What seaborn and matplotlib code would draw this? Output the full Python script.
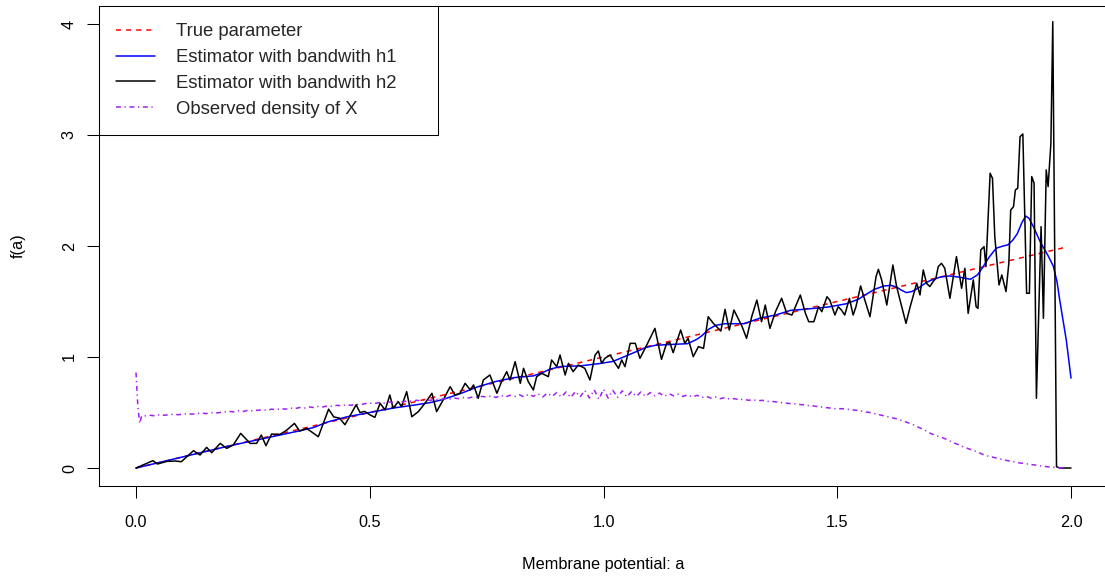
import numpy as np
import pandas as pd
import matplotlib
matplotlib.use("Agg")
import matplotlib.pyplot as plt
import seaborn as sns

# ---------------- data ----------------
true_x = [0.0, 1.99]
true_y = [0.0, 1.99]

h1_x = [0.0, 0.05, 0.1, 0.15, 0.2, 0.25, 0.3, 0.35, 0.38, 0.41, 0.45, 0.5, 0.55, 0.6, 0.63,
        0.65, 0.68, 0.7, 0.73, 0.77, 0.81, 0.85, 0.87, 0.885, 0.91, 0.95, 0.99, 1.02, 1.04,
        1.06, 1.09, 1.11, 1.13, 1.18, 1.20, 1.21, 1.225, 1.24, 1.26, 1.30, 1.335, 1.37, 1.40,
        1.43, 1.48, 1.52, 1.545, 1.56, 1.58, 1.60, 1.615, 1.627, 1.638, 1.648, 1.66, 1.677,
        1.69, 1.70, 1.72, 1.74, 1.76, 1.785, 1.80, 1.81, 1.825, 1.84, 1.855, 1.865, 1.875,
        1.885, 1.895, 1.903, 1.91, 1.92, 1.935, 1.95, 1.962, 1.97, 1.976, 1.983, 1.99, 2.0]
h1_y = [0.0, 0.05, 0.1, 0.15, 0.2, 0.245, 0.29, 0.335, 0.365, 0.415, 0.46, 0.50, 0.54, 0.57, 0.59,
        0.61, 0.65, 0.68, 0.73, 0.78, 0.815, 0.83, 0.86, 0.89, 0.915, 0.92, 0.94, 0.96, 0.995,
        1.03, 1.085, 1.105, 1.11, 1.12, 1.16, 1.19, 1.25, 1.285, 1.30, 1.30, 1.35, 1.38, 1.42,
        1.43, 1.45, 1.48, 1.52, 1.56, 1.61, 1.64, 1.645, 1.63, 1.60, 1.58, 1.59, 1.63,
        1.67, 1.69, 1.72, 1.73, 1.72, 1.70, 1.74, 1.80, 1.90, 1.98, 2.00, 2.01, 2.05,
        2.11, 2.21, 2.27, 2.25, 2.17, 2.03, 1.92, 1.82, 1.68, 1.51, 1.33, 1.15, 0.81]

h2_x = [0.0, 0.036, 0.046, 0.066, 0.084, 0.097, 0.123, 0.137, 0.151, 0.162, 0.18, 0.194, 0.208,
        0.224, 0.244, 0.258, 0.268, 0.278, 0.29, 0.308, 0.322, 0.339, 0.35, 0.365, 0.39, 0.412,
        0.423, 0.435, 0.447, 0.471, 0.479, 0.489, 0.50,
        0.511, 0.522, 0.533, 0.543, 0.55, 0.561, 0.568, 0.579, 0.59, 0.604, 0.618, 0.633, 0.643,
        0.657, 0.672, 0.682, 0.693, 0.704, 0.715, 0.722, 0.732, 0.743, 0.757, 0.772, 0.782,
        0.793, 0.8, 0.811, 0.822, 0.829, 0.839, 0.85, 0.857, 0.868, 0.882, 0.889, 0.9, 0.907,
        0.918, 0.925, 0.935, 0.946, 0.96, 0.971, 0.982,
        0.989, 0.996, 1.003, 1.014, 1.025, 1.032, 1.039, 1.046, 1.057, 1.068, 1.078, 1.089,
        1.11, 1.124, 1.135, 1.142, 1.149, 1.165, 1.174, 1.181, 1.192, 1.203, 1.214, 1.224,
        1.235, 1.251, 1.26, 1.269, 1.279, 1.296, 1.306, 1.317, 1.328, 1.338, 1.346, 1.356,
        1.368, 1.381, 1.392, 1.403, 1.421, 1.432, 1.439, 1.45, 1.46, 1.467, 1.478,
        1.484, 1.495, 1.502, 1.509, 1.516, 1.526, 1.534, 1.54, 1.55, 1.559, 1.57, 1.583, 1.588,
        1.595, 1.606, 1.619, 1.627, 1.647, 1.656, 1.67, 1.677, 1.684, 1.691, 1.698, 1.705,
        1.711, 1.716, 1.723, 1.73, 1.741, 1.755, 1.766, 1.773, 1.78, 1.791, 1.797, 1.801, 1.807,
        1.814, 1.818, 1.827, 1.832, 1.837, 1.846, 1.852, 1.861, 1.867, 1.871, 1.877, 1.881,
        1.886, 1.891, 1.897, 1.905, 1.911, 1.916, 1.921, 1.926, 1.936, 1.941, 1.947, 1.951,
        1.957, 1.961, 1.969, 1.976, 2.0]
h2_y = [0.0, 0.066, 0.036, 0.06, 0.063, 0.057, 0.156, 0.117, 0.186, 0.138, 0.222, 0.177, 0.207,
        0.312, 0.222, 0.222, 0.297, 0.201, 0.306, 0.303, 0.34, 0.402, 0.333, 0.357, 0.282, 0.53,
        0.46, 0.45, 0.39, 0.57, 0.50, 0.51, 0.48,
        0.456, 0.583, 0.523, 0.658, 0.538, 0.598, 0.553, 0.688, 0.462, 0.508, 0.583, 0.673, 0.508,
        0.613, 0.733, 0.658, 0.673, 0.763, 0.703, 0.748, 0.628, 0.793, 0.838, 0.673, 0.778,
        0.868, 0.793, 0.958, 0.763, 0.898, 0.778, 0.703, 0.823, 0.853, 0.823, 0.973, 0.913, 1.018,
        0.838, 0.943, 0.868, 0.928, 0.898, 0.793, 1.018,
        1.054, 0.943, 0.988, 1.018, 0.943, 0.898, 0.973, 0.913, 1.123, 1.123, 0.988, 1.078,
        1.258, 0.979, 1.123, 1.129, 1.039, 1.243, 1.123, 1.168, 1.003, 1.093, 1.078, 1.363,
        1.303, 1.234, 1.429, 1.243, 1.423, 1.279, 1.168, 1.363, 1.513, 1.318, 1.468, 1.258,
        1.41, 1.529, 1.393, 1.378, 1.558, 1.393, 1.318, 1.318, 1.453, 1.408, 1.543,
        1.513, 1.378, 1.453, 1.423, 1.378, 1.528, 1.378, 1.453, 1.64, 1.513, 1.363, 1.724, 1.79,
        1.694, 1.468, 1.829, 1.634, 1.303, 1.453, 1.664, 1.559, 1.784, 1.664, 1.634, 1.679,
        1.709, 1.814, 1.844, 1.799, 1.529, 1.904, 1.619, 1.799, 1.393, 1.694, 1.453, 1.438, 1.964,
        1.994, 1.814, 2.655, 2.61, 2.084, 1.649, 1.739, 1.589, 1.844, 2.324, 2.354, 2.505,
        2.52, 2.985, 3.009, 1.574, 1.574, 2.625, 2.565, 0.628, 2.174, 1.348, 2.685, 2.535,
        2.925, 4.021, 0.012, 0.0, 0.0]

dens_x_start = [0.0, 0.004, 0.008, 0.012]
dens_y_start = [0.86, 0.55, 0.40, 0.47]
dens_y_grid = [
    0.47, 0.475, 0.47, 0.48, 0.475, 0.48, 0.485, 0.48, 0.485,
    0.49, 0.485, 0.49, 0.495, 0.49, 0.50, 0.495, 0.50, 0.505, 0.51,
    0.505, 0.515, 0.51, 0.52, 0.515, 0.52, 0.525, 0.52, 0.53, 0.525,
    0.535, 0.53, 0.54, 0.535, 0.545, 0.54, 0.55, 0.545, 0.555, 0.55,
    0.56, 0.555, 0.565, 0.56, 0.57, 0.565, 0.575, 0.57, 0.58, 0.585,
    0.58, 0.59, 0.585, 0.595, 0.59, 0.60, 0.595, 0.605, 0.60, 0.61,
    0.605, 0.615, 0.61, 0.62, 0.615, 0.625, 0.62, 0.63, 0.625, 0.635,
    0.63, 0.64, 0.635, 0.645, 0.64, 0.65, 0.635, 0.655, 0.64, 0.655,
    0.645, 0.66, 0.64, 0.665, 0.645, 0.67, 0.64, 0.675, 0.645, 0.68,
    0.64, 0.685, 0.635, 0.69, 0.64, 0.70, 0.63, 0.705, 0.62, 0.71,
    0.63, 0.70, 0.635, 0.695, 0.64, 0.69, 0.645, 0.685, 0.645, 0.68,
    0.65, 0.675, 0.645, 0.67, 0.65, 0.665, 0.645, 0.66, 0.64, 0.655,
    0.635, 0.645, 0.63, 0.64, 0.625, 0.635, 0.62, 0.625, 0.615, 0.62,
    0.61, 0.615, 0.605, 0.61, 0.60, 0.60, 0.595, 0.59, 0.585, 0.58,
    0.578, 0.572, 0.568, 0.562, 0.558, 0.552, 0.548, 0.542, 0.538, 0.532,
    0.535, 0.53, 0.525, 0.52, 0.515, 0.505, 0.50, 0.49, 0.48, 0.47,
    0.46, 0.45, 0.44, 0.425, 0.41, 0.395, 0.375, 0.355, 0.335, 0.31, 0.295,
    0.28, 0.265, 0.245, 0.225, 0.21, 0.19, 0.175, 0.16, 0.145, 0.125,
    0.11, 0.10, 0.09, 0.08, 0.07, 0.062, 0.055, 0.046, 0.04, 0.033,
    0.027, 0.021, 0.016, 0.011, 0.007, 0.004, 0.002, 0.001]
dens_x_grid = [round(0.02 + 0.01 * i, 2) for i in range(len(dens_y_grid))]
dens_x = dens_x_start + dens_x_grid
dens_y = dens_y_start + dens_y_grid

labels = ["True parameter", "Estimator with bandwith h1",
          "Estimator with bandwith h2", "Observed density of X"]
x_ticks = [0.0, 0.5, 1.0, 1.5, 2.0]
y_ticks = [0, 1, 2, 3, 4]

# ---------------- style ----------------
sns.set_theme(style="ticks")
plt.rcParams["font.family"] = ["Liberation Sans", "DejaVu Sans"]
plt.rcParams["axes.edgecolor"] = "black"
plt.rcParams["axes.linewidth"] = 0.75

fs = 11.7
fs_leg = 13.3
fig = plt.figure(figsize=(11.05, 5.81), dpi=100)
ax = fig.add_axes([0.08923, 0.16351, 0.91385, 0.82565])

lw = 1.1
sns.lineplot(x=true_x, y=true_y, ax=ax, color="#FF0000", lw=lw,
             linestyle=(0, (3.3, 3.3)), estimator=None, sort=False, label=labels[0])
sns.lineplot(x=h1_x, y=h1_y, ax=ax, color="#0000FF", lw=lw,
             estimator=None, sort=False, label=labels[1])
sns.lineplot(x=h2_x, y=h2_y, ax=ax, color="black", lw=lw,
             estimator=None, sort=False, label=labels[2])
sns.lineplot(x=dens_x, y=dens_y, ax=ax, color="#A020F0", lw=lw,
             linestyle=(0, (3.2, 2.4, 0.8, 2.4)), estimator=None, sort=False, label=labels[3])

ax.set_xlim(-0.08, 2.08)
ax.set_ylim(-0.162, 4.159)
ax.set_xticks(x_ticks)
ax.set_xticklabels(["0.0", "0.5", "1.0", "1.5", "2.0"])
ax.set_yticks(y_ticks)
ax.set_yticklabels([str(v) for v in y_ticks])
ax.tick_params(axis="both", length=8.64, width=0.75, color="black",
               labelsize=fs, labelcolor="black", direction="out")
ax.tick_params(axis="x", pad=12)
ax.tick_params(axis="y", pad=7)
for lab in ax.get_yticklabels():
    lab.set_rotation(90)
    lab.set_va("center")
for sp in ax.spines.values():
    sp.set_visible(True)
    sp.set_color("black")
    sp.set_linewidth(0.75)

ax.set_xlabel("Membrane potential: a", fontsize=fs, color="black")
ax.set_ylabel("f(a)", fontsize=fs, color="black")
ax.yaxis.set_label_coords(-0.072, 0.5)
ax.xaxis.set_label_coords(0.5, -0.148)

handles, _ = ax.get_legend_handles_labels()
leg = ax.legend(handles=handles, labels=labels, loc="upper left",
                bbox_to_anchor=(0.0, 1.0, 0.3364, 0.0), mode="expand",
                borderaxespad=0.0, fontsize=fs_leg, frameon=True, fancybox=False,
                framealpha=1.0, edgecolor="black", handlelength=2.1,
                handletextpad=1.14, labelspacing=0.47, borderpad=0.93)
leg.get_frame().set_linewidth(0.75)

fig.savefig("out.png", dpi=100)
